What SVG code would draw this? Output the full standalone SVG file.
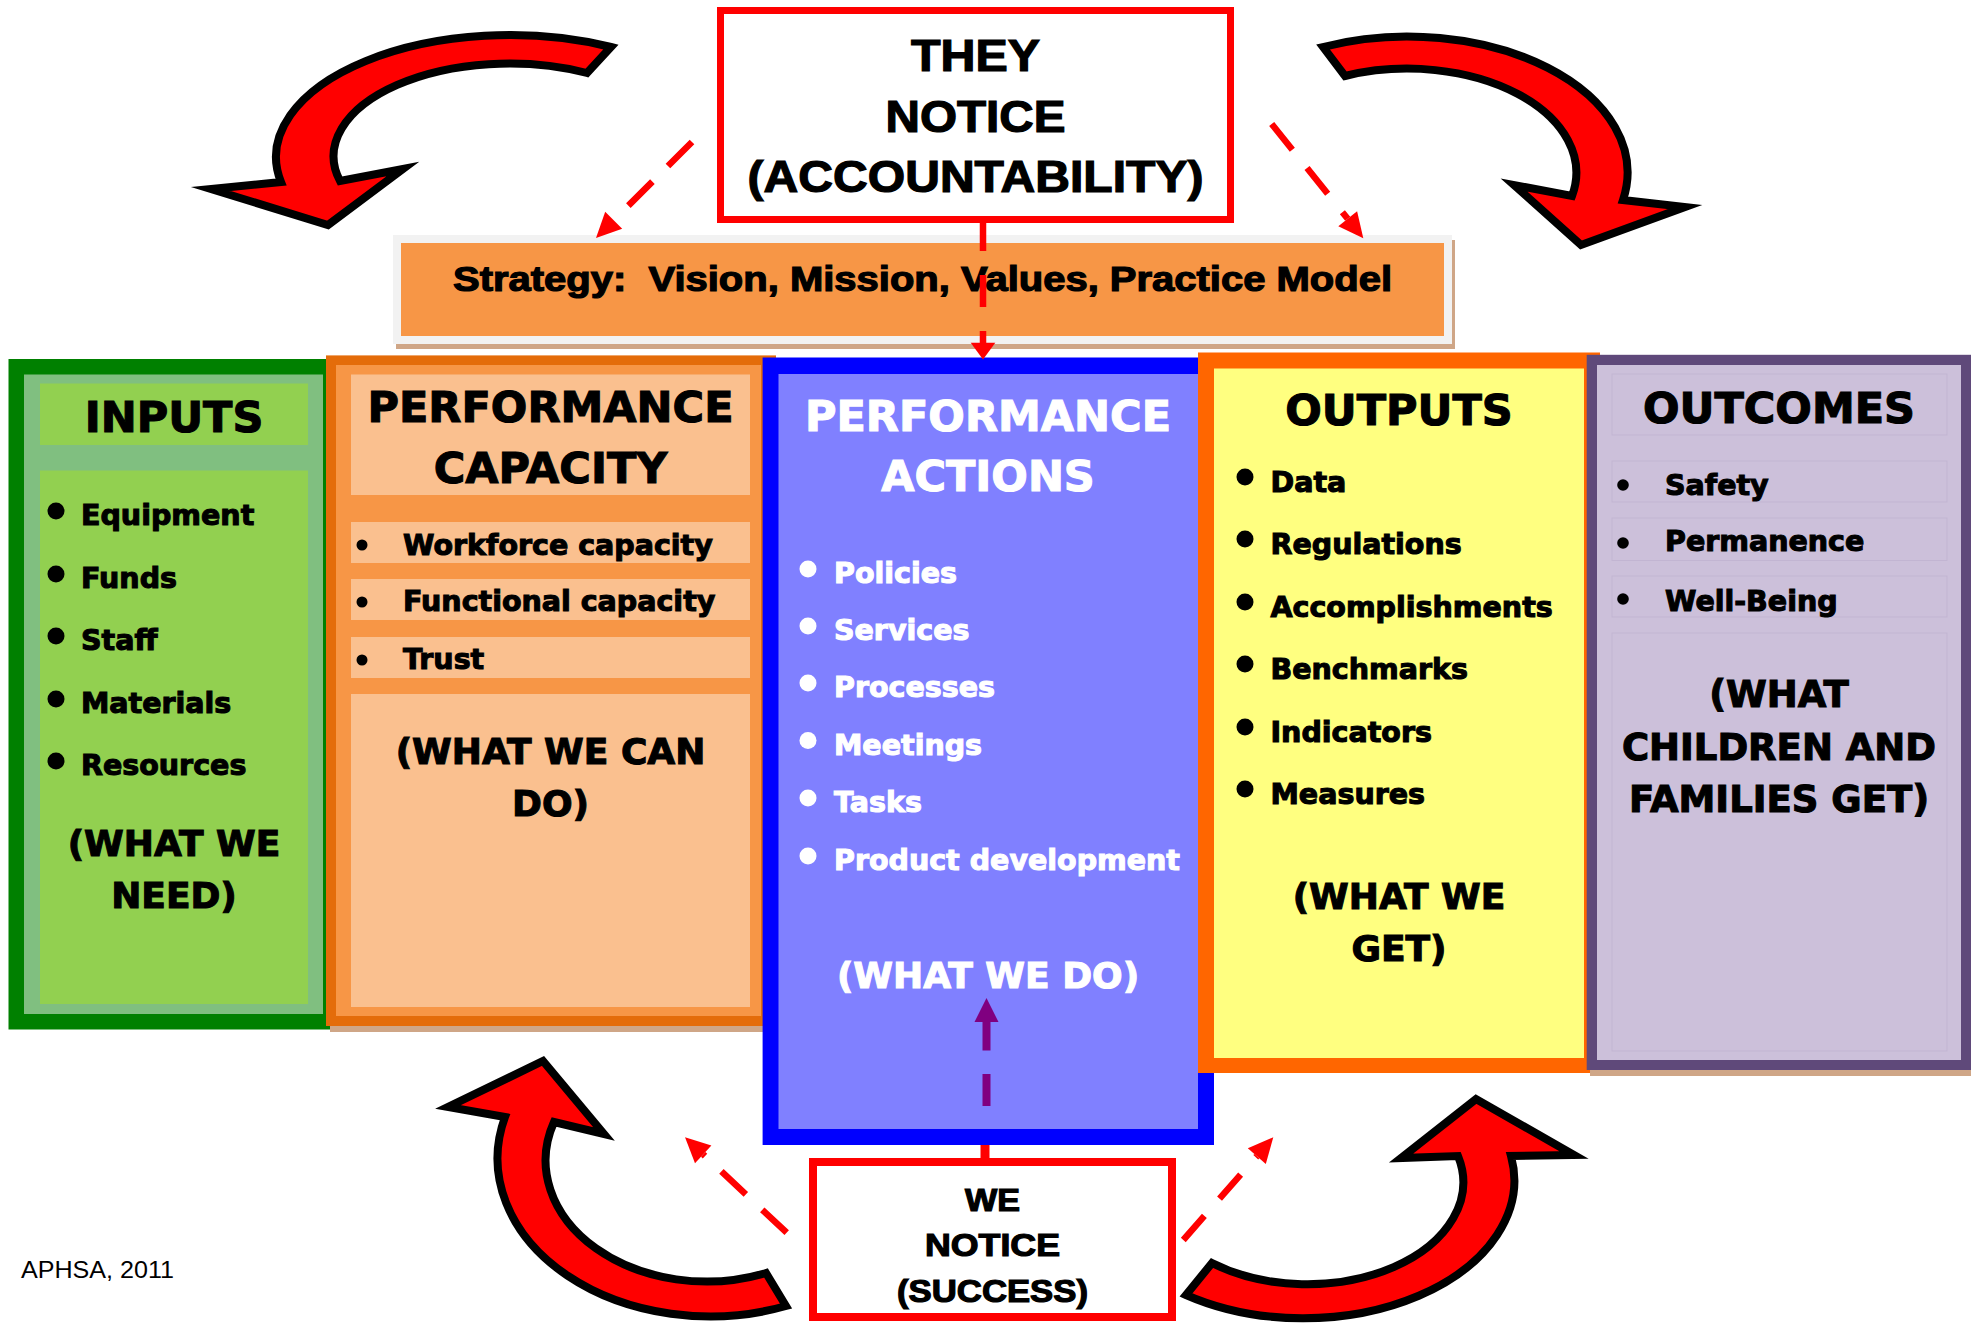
<svg xmlns="http://www.w3.org/2000/svg" width="1971" height="1324" viewBox="0 0 1971 1324">
<defs>
<style>
.lb{font-family:"Liberation Sans",Arial,sans-serif;font-weight:bold;fill:#000;stroke:#000;stroke-width:1.2}
.hv{font-family:"DejaVu Sans","Liberation Sans",sans-serif;font-weight:bold;stroke-width:1.1}
.blk{fill:#000;stroke:#000}
.wht{fill:#fff;stroke:#fff}
.h1{font-size:43px}
.h2{font-size:36px}
.it{font-size:28.5px}
.mid{text-anchor:middle}
.curve{fill:#ff0000;stroke:#000;stroke-width:8;stroke-linejoin:miter;stroke-miterlimit:10}
.dash{fill:none;stroke:#ff0000;stroke-width:6.5}
.head{fill:#ff0000}
.pnl{fill:#fac08f}
.opnl{fill:#ccc0da;stroke:#c2b5d2;stroke-width:1}
</style>
</defs>
<rect x="0" y="0" width="1971" height="1324" fill="#ffffff"/>

<g id="inputs">
<rect x="8.5" y="359" width="330" height="670.5" fill="#008000"/>
<rect x="24" y="374.5" width="299" height="639.5" fill="#80bf80"/>
<rect x="40" y="383.5" width="268" height="61.5" fill="#92d050"/>
<rect x="40" y="470.5" width="268" height="533.5" fill="#92d050"/>
<text class="hv blk h1 mid" x="174" y="432" font-size="42">INPUTS</text>
<circle cx="56" cy="511" r="8.5"/>
<circle cx="56" cy="574" r="8.5"/>
<circle cx="56" cy="636" r="8.5"/>
<circle cx="56" cy="699" r="8.5"/>
<circle cx="56" cy="761" r="8.5"/>
<text class="hv blk it" x="81" y="525">Equipment</text>
<text class="hv blk it" x="81" y="588">Funds</text>
<text class="hv blk it" x="81" y="650">Staff</text>
<text class="hv blk it" x="81" y="713">Materials</text>
<text class="hv blk it" x="81" y="775">Resources</text>
<text class="hv blk h2 mid" x="174" y="856">(WHAT WE</text>
<text class="hv blk h2 mid" x="174" y="908">NEED)</text>
</g>

<g id="performance-capacity">
<rect x="330" y="1026" width="440" height="6" fill="#cfa687"/>
<rect x="326" y="355.4" width="450" height="670.6" fill="#e46c0a"/>
<rect x="336" y="365" width="425" height="651" fill="#f79646"/>
<rect class="pnl" x="351" y="374.5" width="399" height="120.5"/>
<rect class="pnl" x="351" y="522" width="399" height="41"/>
<rect class="pnl" x="351" y="579" width="399" height="41"/>
<rect class="pnl" x="351" y="637" width="399" height="41"/>
<rect class="pnl" x="351" y="694" width="399" height="313"/>
<text class="hv blk h1 mid" x="550.5" y="422">PERFORMANCE</text>
<text class="hv blk h1 mid" x="550.5" y="483">CAPACITY</text>
<circle cx="362" cy="545" r="5.5"/>
<circle cx="362" cy="602" r="5.5"/>
<circle cx="362" cy="660" r="5.5"/>
<text class="hv blk it" x="403" y="554.5">Workforce capacity</text>
<text class="hv blk it" x="403" y="611">Functional capacity</text>
<text class="hv blk it" x="403" y="669">Trust</text>
<text class="hv blk h2 mid" x="550.5" y="764">(WHAT WE CAN</text>
<text class="hv blk h2 mid" x="550.5" y="816">DO)</text>
</g>

<g id="performance-actions">
<rect x="762.6" y="357.5" width="451.4" height="787.5" fill="#0000ff"/>
<rect x="778.5" y="374" width="419.5" height="755" fill="#8080ff"/>
<text class="hv wht h1 mid" x="988" y="431">PERFORMANCE</text>
<text class="hv wht h1 mid" x="988" y="491">ACTIONS</text>
<g fill="#fff">
<circle cx="808" cy="569" r="8.5"/>
<circle cx="808" cy="626" r="8.5"/>
<circle cx="808" cy="683" r="8.5"/>
<circle cx="808" cy="740.5" r="8.5"/>
<circle cx="808" cy="798" r="8.5"/>
<circle cx="808" cy="856" r="8.5"/>
</g>
<text class="hv wht it" x="834" y="583">Policies</text>
<text class="hv wht it" x="834" y="640">Services</text>
<text class="hv wht it" x="834" y="697">Processes</text>
<text class="hv wht it" x="834" y="754.5">Meetings</text>
<text class="hv wht it" x="834" y="812">Tasks</text>
<text class="hv wht it" x="834" y="870">Product development</text>
<text class="hv wht h2 mid" x="988" y="988">(WHAT WE DO)</text>
</g>

<g id="outputs">
<rect x="1198" y="352.5" width="402" height="720.5" fill="#ff6600"/>
<rect x="1214" y="368.5" width="370" height="689.5" fill="#ffff80"/>
<text class="hv blk h1 mid" x="1399" y="425">OUTPUTS</text>
<circle cx="1245" cy="477" r="8.5"/>
<circle cx="1245" cy="539" r="8.5"/>
<circle cx="1245" cy="602" r="8.5"/>
<circle cx="1245" cy="664" r="8.5"/>
<circle cx="1245" cy="727" r="8.5"/>
<circle cx="1245" cy="789" r="8.5"/>
<text class="hv blk it" x="1270.5" y="492">Data</text>
<text class="hv blk it" x="1270.5" y="554">Regulations</text>
<text class="hv blk it" x="1270.5" y="617">Accomplishments</text>
<text class="hv blk it" x="1270.5" y="679">Benchmarks</text>
<text class="hv blk it" x="1270.5" y="742">Indicators</text>
<text class="hv blk it" x="1270.5" y="804">Measures</text>
<text class="hv blk h2 mid" x="1399" y="909">(WHAT WE</text>
<text class="hv blk h2 mid" x="1399" y="961">GET)</text>
</g>

<g id="outcomes">
<rect x="1590" y="1070" width="381" height="6" fill="#cfa687"/>
<rect x="1586.7" y="354.8" width="384.3" height="715.2" fill="#5f497a"/>
<rect x="1597" y="365" width="364" height="695" fill="#ccc0da"/>
<rect class="opnl" x="1612" y="374" width="335" height="61"/>
<rect class="opnl" x="1612" y="461" width="335" height="41"/>
<rect class="opnl" x="1612" y="518" width="335" height="42.5"/>
<rect class="opnl" x="1612" y="576" width="335" height="41"/>
<rect class="opnl" x="1612" y="633" width="335" height="418"/>
<text class="hv blk h1 mid" x="1779" y="423">OUTCOMES</text>
<circle cx="1623" cy="485" r="5.8"/>
<circle cx="1623" cy="543" r="5.8"/>
<circle cx="1623" cy="599" r="5.8"/>
<text class="hv blk it" x="1665" y="494.5">Safety</text>
<text class="hv blk it" x="1665" y="551">Permanence</text>
<text class="hv blk it" x="1665" y="611">Well-Being</text>
<text class="hv blk mid" x="1779" y="706.5" font-size="37">(WHAT</text>
<text class="hv blk mid" x="1779" y="760" font-size="37">CHILDREN AND</text>
<text class="hv blk mid" x="1779" y="812" font-size="37">FAMILIES GET)</text>
</g>

<g id="strategy">
<rect x="396" y="240" width="1059" height="109" fill="#cfa687"/>
<rect x="393" y="235" width="1059" height="109" fill="#f2f2f2"/>
<rect x="401" y="243" width="1043" height="93" fill="#f79646"/>
<text class="lb" x="453" y="291" font-size="34.5" textLength="939" lengthAdjust="spacingAndGlyphs" xml:space="preserve">Strategy:  Vision, Mission, Values, Practice Model</text>
</g>

<g id="they-notice">
<rect x="720.5" y="10.5" width="510" height="209" fill="#ffffff" stroke="#ff0000" stroke-width="7"/>
<text class="lb mid" x="975.5" y="71" font-size="44" textLength="129" lengthAdjust="spacingAndGlyphs">THEY</text>
<text class="lb mid" x="975.5" y="132" font-size="44" textLength="180" lengthAdjust="spacingAndGlyphs">NOTICE</text>
<text class="lb mid" x="975.5" y="192" font-size="44" textLength="456" lengthAdjust="spacingAndGlyphs">(ACCOUNTABILITY)</text>
</g>

<g id="we-notice">
<rect x="813" y="1162" width="359" height="155" fill="#ffffff" stroke="#ff0000" stroke-width="8"/>
<text class="lb mid" x="992.5" y="1211" font-size="32" textLength="55" lengthAdjust="spacingAndGlyphs">WE</text>
<text class="lb mid" x="992.5" y="1256" font-size="32" textLength="135" lengthAdjust="spacingAndGlyphs">NOTICE</text>
<text class="lb mid" x="992.5" y="1302" font-size="32" textLength="191" lengthAdjust="spacingAndGlyphs">(SUCCESS)</text>
</g>

<g id="cycle-arrows">
<path class="curve" d="M 611,47 A 234 122 0 0 0 281,182 L 211,189 L 328,225 L 403,169 L 340,181 A 176 92.7 0 0 1 587,73 Z"/>
<path class="curve" d="M 1323,47 A 220 136 0 0 1 1623,200 L 1685,207 L 1581,245 L 1514,185 L 1572,196 A 169 104 0 0 0 1345,76 Z"/>
<path class="curve" d="M 786,1306 A 212.5 158 0 0 1 505,1117 L 448,1107 L 543,1061 L 604,1134 L 554,1122 A 161 121 0 0 0 766,1273 Z"/>
<path class="curve" d="M 1186,1295 A 211 138 0 0 0 1511,1156 L 1574,1155 L 1476,1099 L 1401,1158 L 1458,1156 A 156 102 0 0 1 1212,1263 Z"/>
</g>

<g id="connectors">
<line class="dash" x1="692" y1="142" x2="613.7" y2="220.3" stroke-dasharray="34 22"/>
<polygon class="head" points="596,238 622.2,228.8 605.2,211.8"/>
<line class="dash" x1="1271.7" y1="124" x2="1347.7" y2="218.8" stroke-dasharray="33 23.5"/>
<polygon class="head" points="1363.3,238.3 1338.3,226.3 1357.1,211.3"/>
<line class="dash" x1="983" y1="219" x2="983" y2="343" stroke-width="8" stroke-dasharray="32 24"/>
<polygon class="head" points="983,359.5 970.7,342.7 995.3,342.7"/>
<line class="dash" x1="786.7" y1="1232.7" x2="703.2" y2="1154.4" stroke-dasharray="33.5 22.5"/>
<polygon class="head" points="685,1137.3 711.4,1145.6 695,1163.2"/>
<line class="dash" x1="1183.3" y1="1240" x2="1256.8" y2="1156.1" stroke-dasharray="32 23"/>
<polygon class="head" points="1273.3,1137.3 1265.8,1164 1247.8,1148.2"/>
<line x1="985" y1="1145" x2="985" y2="1158" stroke="#ff0000" stroke-width="9"/>
<line x1="986.5" y1="1106" x2="986.5" y2="1022" stroke="#800080" stroke-width="8" stroke-dasharray="32 23.5"/>
<polygon points="986.5,998 974.5,1022 998.5,1022" fill="#800080"/>
</g>

<text x="21" y="1278" font-family="Liberation Sans, Arial, sans-serif" font-size="24" textLength="153" lengthAdjust="spacingAndGlyphs" fill="#000">APHSA, 2011</text>
</svg>
